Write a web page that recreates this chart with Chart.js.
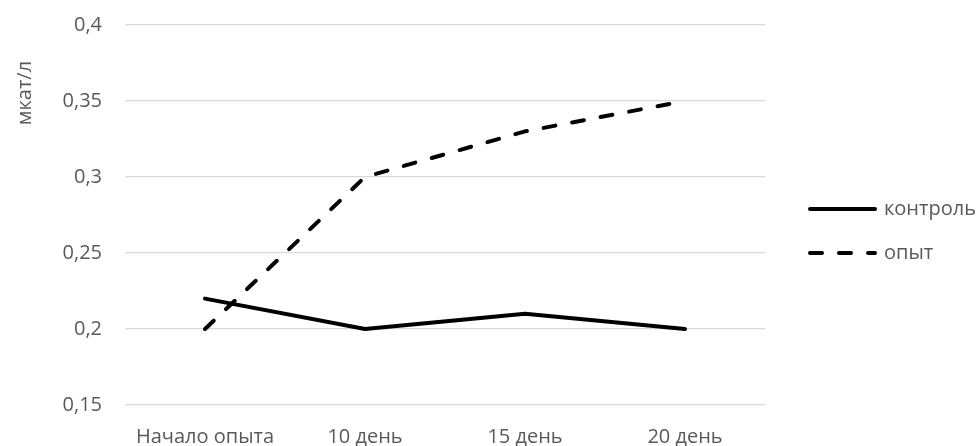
<!DOCTYPE html>
<html>
<head>
<meta charset="utf-8">
<script src="https://cdn.jsdelivr.net/npm/chart.js@4/dist/chart.umd.min.js"></script>
<style>
  html, body { margin: 0; padding: 0; background: #fff; }
  #wrap { width: 979px; height: 446px; position: relative; }
</style>
</head>
<body>
<div id="wrap"><canvas id="c" width="979" height="446"></canvas></div>
<script>
const categories = ['Начало опыта', '10 день', '15 день', '20 день'];
const controlValues = [0.22, 0.20, 0.21, 0.20];
const trialValues = [0.20, 0.30, 0.33, 0.35];
const seriesNames = ['контроль', 'опыт'];
const yTicks = [0.15, 0.2, 0.25, 0.3, 0.35, 0.4];
const yTitle = 'мкат/л';

const FONT = '"Open Sans", sans-serif';
const TEXT = '#595959';

// Legend and axis title drawn on the canvas next to the plot
const sideText = {
  id: 'sideText',
  afterDraw(chart) {
    const ctx = chart.ctx;
    ctx.save();
    ctx.fillStyle = TEXT;
    ctx.font = '20px ' + FONT;
    // rotated y-axis title
    ctx.save();
    ctx.translate(25, 93);
    ctx.rotate(-Math.PI / 2);
    ctx.textAlign = 'center';
    ctx.textBaseline = 'middle';
    ctx.fillText(yTitle, 0, 0);
    ctx.restore();
    // legend entries
    const rows = [209, 253];
    chart.data.datasets.forEach((ds, i) => {
      const y = rows[i];
      ctx.save();
      ctx.strokeStyle = ds.borderColor;
      ctx.lineWidth = ds.borderWidth;
      ctx.lineCap = ds.borderCapStyle;
      ctx.setLineDash(ds.borderDash || []);
      ctx.beginPath();
      ctx.moveTo(810, y);
      ctx.lineTo(875, y);
      ctx.stroke();
      ctx.restore();
      ctx.textAlign = 'left';
      ctx.textBaseline = 'middle';
      ctx.fillText(ds.label, 884, y);
    });
    ctx.restore();
  }
};

new Chart(document.getElementById('c'), {
  type: 'line',
  data: {
    labels: categories,
    datasets: [
      {
        label: seriesNames[0],
        data: controlValues,
        borderColor: '#000',
        backgroundColor: '#000',
        borderWidth: 4,
        borderCapStyle: 'round',
        borderJoinStyle: 'round',
        pointRadius: 0,
        tension: 0,
        fill: false
      },
      {
        label: seriesNames[1],
        data: trialValues,
        borderColor: '#000',
        backgroundColor: '#000',
        borderWidth: 4,
        borderDash: [12, 17],
        borderCapStyle: 'round',
        borderJoinStyle: 'round',
        pointRadius: 0,
        tension: 0,
        fill: false
      }
    ]
  },
  options: {
    responsive: false,
    animation: false,
    layout: { padding: { left: 0, right: 214, top: 25, bottom: 0 } },
    plugins: {
      legend: { display: false },
      tooltip: { enabled: false }
    },
    scales: {
      x: {
        offset: true,
        grid: { display: false, drawTicks: false },
        border: { display: false },
        ticks: {
          color: TEXT,
          font: { family: FONT, size: 20 },
          padding: 20,
          maxRotation: 0,
          autoSkip: false
        },
        afterFit(scale) { scale.height = 41; }
      },
      y: {
        min: 0.15,
        max: 0.4,
        afterBuildTicks(scale) { scale.ticks = yTicks.map(v => ({ value: v })); },
        grid: { color: '#d9d9d9', lineWidth: 1.3, drawTicks: false },
        border: { display: false },
        ticks: {
          color: TEXT,
          font: { family: FONT, size: 20 },
          padding: 23,
          callback: v => String(Math.round(v * 100) / 100).replace('.', ',')
        },
        afterFit(scale) {
          scale.width = 125;
          scale.paddingTop = 12;
          scale.paddingBottom = 12;
        }
      }
    }
  },
  plugins: [sideText]
});
</script>
</body>
</html>
